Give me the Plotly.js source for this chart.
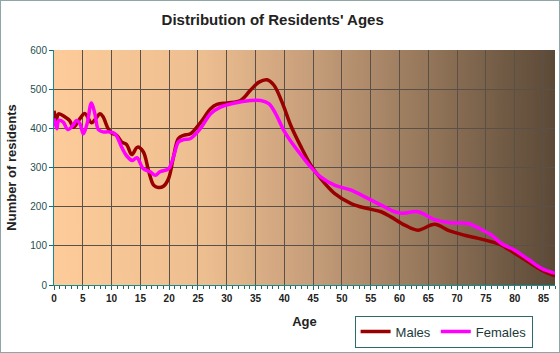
<!DOCTYPE html>
<html>
<head>
<meta charset="utf-8">
<script src="https://cdn.plot.ly/plotly-3.0.1.min.js"></script>
<style>
html,body{margin:0;padding:0;background:#ffffff;}
#wrap{position:relative;width:560px;height:353px;}
#chart{width:560px;height:353px;}
#frame{position:absolute;left:0;top:0;width:560px;height:353px;box-sizing:border-box;border:1px solid #8fa6a6;pointer-events:none;}
</style>
</head>
<body>
<div id="wrap"><div id="chart"></div><div id="frame"></div></div>
<script>
// Data
const maleAges = [0,0.4,0.8,1.9,2.7,3.4,4.5,5.35,6.5,7.1,8,8.5,9.4,10,10.9,11.75,12.6,13.5,14.5,15.5,16.4,17.3,18.1,19,19.9,20.75,21.6,22.5,23.7,25.4,27.2,28.3,30.1,32.4,34.1,35.6,37,38.2,39.7,41.1,42.85,44.6,46.3,48.7,51.6,54.5,56.8,58.5,60.9,63.2,66.1,68.7,71.3,73.7,76,77.7,80,82.4,84.7,87];
const males = [445,423,437,429,420,403,425,438,414,422,437,430,399,388,382,365,359,333,352,340,293,255,249,252,272,327,374,382,386,414,450,461,465,471,497,518,524,510,463,408,354,306,272,234,208,195,187,174,153,140,155,138,127,119,110,102,81,59,38,23];

const femaleAges = [0,0.5,0.8,1.6,2.4,3.3,3.9,4.5,5.1,5.75,6.5,7.1,7.7,8.5,9.5,10.6,11.75,12.6,13.6,14.4,15.5,16.7,17.6,18.4,19.9,20.75,21.6,22.5,23.7,25.4,27.2,28.9,31.2,34.1,35.9,37.3,38.5,39.9,41.4,42.7,44.6,46.3,48.7,51.6,54.5,56.8,58.5,60.3,63.2,66.1,68.7,71.9,73.9,76,77.7,80,82.4,84.7,87];
const females = [425,399,420,416,397,408,420,412,386,412,465,437,397,391,391,386,352,330,318,325,297,289,280,289,297,327,365,371,374,399,437,454,464,471,471,463,437,395,361,336,301,276,255,242,221,204,191,183,187,167,159,157,144,127,106,89,65,42,30];

const xTickVals = [0,5,10,15,20,25,30,35,40,45,50,55,60,65,70,75,80,85];
const yTickVals = [0,100,200,300,400,500,600];

// background gradient for plot area
const cv = document.createElement('canvas');
cv.width = 500; cv.height = 10;
const ctx = cv.getContext('2d');
const g = ctx.createLinearGradient(0,0,500,0);
g.addColorStop(0,'#FECC9A');
g.addColorStop(0.3,'#EDBE90');
g.addColorStop(0.5,'#C9A07C');
g.addColorStop(0.72,'#9A7B5E');
g.addColorStop(1,'#5B4937');
ctx.fillStyle = g; ctx.fillRect(0,0,500,10);
const bgURL = cv.toDataURL('image/png');

const traces = [
  {x: maleAges, y: males, name: 'Males', type: 'scatter', mode: 'lines',
   line: {color: '#990000', width: 3.5, shape: 'spline', smoothing: 1}},
  {x: femaleAges, y: females, name: 'Females', type: 'scatter', mode: 'lines',
   line: {color: '#FF00FF', width: 3.5, shape: 'spline', smoothing: 1}}
];

const layout = {
  width: 560, height: 353,
  margin: {l: 54, r: 5, t: 50, b: 68, autoexpand: false},
  paper_bgcolor: '#ffffff',
  plot_bgcolor: 'rgba(0,0,0,0)',
  font: {family: 'Liberation Sans, Arial, sans-serif'},
  title: {text: 'Distribution of Residents\' Ages', x: 0.487, xanchor: 'center', y: 0.945, yanchor: 'middle',
          font: {size: 15, color: '#222222', weight: 'bold'}},
  images: [{source: bgURL, xref: 'paper', yref: 'paper', x: 0, y: 1, sizex: 1, sizey: 1,
            sizing: 'stretch', layer: 'below', xanchor: 'left', yanchor: 'top'}],
  xaxis: {range: [0, 87], tickvals: xTickVals, ticktext: xTickVals.map(String),
          showgrid: true, gridcolor: '#5a5048', gridwidth: 1,
          showline: true, linecolor: '#1a8a8a', linewidth: 1,
          ticks: 'outside', ticklen: 4, tickcolor: '#1a6a6a',
          minor: {dtick: 1, tick0: 0, ticks: 'outside', ticklen: 3, tickcolor: '#1a6a6a', showgrid: false},
          tickfont: {size: 10, color: '#222222', weight: 'bold'},
          zeroline: false, fixedrange: true, automargin: false,
          title: {text: 'Age', font: {size: 13, color: '#222222', weight: 'bold'}, standoff: 13}},
  yaxis: {range: [0, 600], tickvals: yTickVals,
          showgrid: true, gridcolor: '#5a5048', gridwidth: 1,
          showline: true, linecolor: '#1a8a8a', linewidth: 1,
          ticks: 'outside', ticklen: 4, tickcolor: '#1a6a6a',
          tickfont: {size: 10, color: '#1f4f4f'},
          zeroline: false, fixedrange: true, automargin: false,
          title: {text: 'Number of residents', font: {size: 13, color: '#222222', weight: 'bold'}, standoff: 10}},
  showlegend: true,
  legend: {orientation: 'h', x: 0.6, y: -0.13, xanchor: 'left', yanchor: 'top',
           bgcolor: 'rgba(0,0,0,0)', bordercolor: '#2a6a6a', borderwidth: 1,
           font: {size: 13, color: '#1a3a3a'}, tracegroupgap: 0}
};

Plotly.newPlot('chart', traces, layout, {displayModeBar: false, staticPlot: true});
</script>
</body>
</html>
